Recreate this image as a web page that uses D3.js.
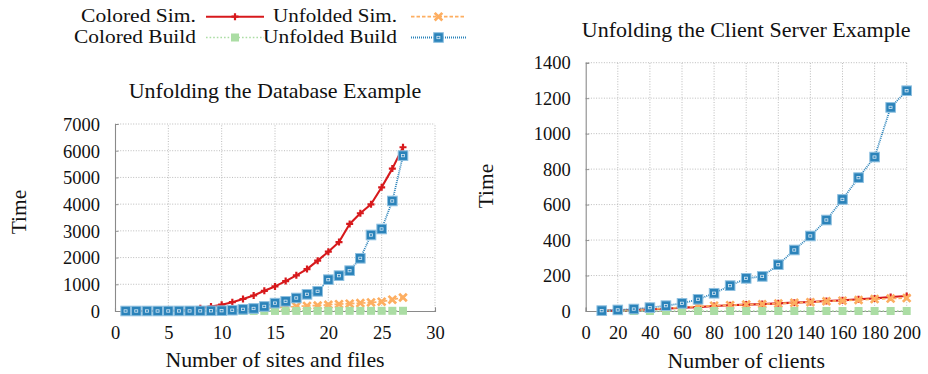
<!DOCTYPE html>
<html><head><meta charset="utf-8">
<script src="https://cdn.jsdelivr.net/npm/d3@7"></script>
<style>
body{margin:0;background:#fff;}
svg text{font-family:"Liberation Serif","DejaVu Serif",serif;fill:#111;}
</style></head>
<body><svg id="c" width="928" height="374"></svg>
<script>
// ---------- DATA ----------
const seriesNames = ["Colored Sim.", "Unfolded Sim.", "Colored Build", "Unfolded Build"];
const colors = ["#d7191c", "#fdae61", "#abdda4", "#2b83ba"];

// Left chart: Unfolding the Database Example
const dbSites = [1,2,3,4,5,6,7,8,9,10,11,12,13,14,15,16,17,18,19,20,21,22,23,24,25,26,27];
const dbColoredSim = [0,1,2,4,8,18,40,100,165,235,330,450,580,755,920,1120,1335,1570,1885,2220,2580,3260,3660,3995,4630,5330,6130];
const dbUnfoldedSim = [0,0,1,2,3,5,8,12,18,25,35,50,70,95,120,150,170,190,205,235,255,275,295,320,350,425,505];
const dbColoredBuild = [0,0,0,0,0,0,1,1,1,2,2,2,3,3,3,4,4,4,5,5,5,6,6,6,7,7,8];
const dbUnfoldedBuild = [0,0,0,0,1,2,3,5,8,12,30,62,95,170,295,362,487,624,736,1173,1323,1510,1972,2845,3070,4118,5816];
const dbXTicks = [0,5,10,15,20,25,30];
const dbYTicks = [0,1000,2000,3000,4000,5000,6000,7000];

// Right chart: Unfolding the Client Server Example
const csClients = [10,20,30,40,50,60,70,80,90,100,110,120,130,140,150,160,170,180,190,200];
const csColoredSim = [1,3,6,9,13,19,22,28,32,36,39,43,47,51,56,60,66,71,79,85];
const csUnfoldedSim = [2,4,6,9,15,21,26,30,33,36,38,42,46,50,55,58,62,67,70,73];
const csColoredBuild = [0,0,0,0,0,0,0,0,0,0,0,0,0,0,0,0,0,0,0,0];
const csUnfoldedBuild = [2,6,11,19,30,43,66,100,143,184,195,261,344,423,513,629,752,868,1148,1242];
const csXTicks = [0,20,40,60,80,100,120,140,160,180,200];
const csYTicks = [0,200,400,600,800,1000,1200,1400];

// ---------- DRAWING ----------
const svg = d3.select("#c");
const FONT = "Liberation Serif";
const TXT = 21.5, TICK = 18.5;
const gridCol = "#b4b4b4", axisCol = "#8a8a8a";

const lineStyles = [
  {w:2.1, dash:null},
  {w:1.7, dash:"3.5,2"},
  {w:1.7, dash:"1.6,2"},
  {w:1.8, dash:"1,1"}
];

function drawMarker(g, k, x, y){
  const c = colors[k];
  if(k===0){
    g.append("path").attr("d",`M${x-3.5},${y}H${x+3.5}M${x},${y-3.5}V${y+3.5}`)
      .attr("stroke",c).attr("stroke-width",2.2).attr("fill","none");
  } else if(k===1){
    const s=3.8;
    g.append("path").attr("d",`M${x-s},${y-s}L${x+s},${y+s}M${x-s},${y+s}L${x+s},${y-s}`)
      .attr("stroke",c).attr("stroke-width",2.7).attr("fill","none");
  } else if(k===2){
    g.append("rect").attr("x",x-4).attr("y",y-4).attr("width",8).attr("height",8).attr("fill",c);
  } else {
    g.append("rect").attr("x",x-4.8).attr("y",y-4.8).attr("width",9.6).attr("height",9.6)
      .attr("fill",c).attr("stroke","#8ec0e0").attr("stroke-width",1);
    g.append("rect").attr("x",x-1.6).attr("y",y-1.2).attr("width",3).attr("height",2.4)
      .attr("fill","none").attr("stroke","#d8e8f4").attr("stroke-width",0.8);
  }
}

function chart(cfg){
  const x = d3.scaleLinear().domain(cfg.xDomain).range([cfg.left, cfg.right]);
  const y = d3.scaleLinear().domain(cfg.yDomain).range([cfg.bottom, cfg.top]);
  const g = svg.append("g");

  // grid
  const grid = g.append("g").attr("stroke",gridCol).attr("stroke-width",0.9).attr("stroke-dasharray","1,1.6");
  cfg.xTicks.forEach(t=>{ if(t!==cfg.xDomain[0]) grid.append("line").attr("x1",x(t)).attr("x2",x(t)).attr("y1",cfg.bottom).attr("y2",cfg.top); });
  cfg.yTicks.forEach(t=>{ if(t!==cfg.yDomain[0]) grid.append("line").attr("x1",cfg.left).attr("x2",cfg.right).attr("y1",y(t)).attr("y2",y(t)); });

  // axes (left & bottom solid lines, ticks inward)
  const xa = g.append("g").attr("transform",`translate(0,${cfg.bottom})`)
    .call(d3.axisBottom(x).tickValues(cfg.xTicks).tickSize(-3.5).tickPadding(10).tickFormat(d3.format("d")));
  const ya = g.append("g").attr("transform",`translate(${cfg.left},0)`)
    .call(d3.axisLeft(y).tickValues(cfg.yTicks).tickSize(-3.5).tickPadding(15).tickFormat(d3.format("d")));
  [xa,ya].forEach(a=>{
    a.attr("font-family",FONT).attr("font-size",TICK);
    a.select(".domain").attr("stroke",axisCol).attr("stroke-width",1.1);
    a.selectAll(".tick line").attr("stroke",axisCol).attr("stroke-width",0.9);
    a.selectAll("text").attr("font-family",FONT).style("font-family",`"${FONT}", serif`)
      .style("font-size",TICK+"px").attr("fill","#111");
  });
  xa.selectAll("text").attr("dy","0.95em");
  ya.selectAll("text").attr("dy","0.34em");

  // series
  const line = d3.line().x(d=>x(d[0])).y(d=>y(d[1]));
  cfg.series.forEach((vals,k)=>{
    const pts = cfg.xs.map((xv,i)=>[xv, vals[i]]);
    const st = lineStyles[k];
    const p = g.append("path").attr("d",line(pts)).attr("fill","none")
      .attr("stroke",colors[k]).attr("stroke-width",st.w).attr("stroke-linejoin","round");
    if(st.dash) p.attr("stroke-dasharray",st.dash);
    const mg = g.append("g");
    pts.forEach(d=>drawMarker(mg,k,x(d[0]),y(d[1])));
  });

  // title & labels
  g.append("text").attr("x",(cfg.left+cfg.right)/2).attr("y",cfg.titleY).attr("text-anchor","middle")
    .style("font-size","22px").text(cfg.title);
  g.append("text").attr("x",(cfg.left+cfg.right)/2).attr("y",cfg.xLabelY).attr("text-anchor","middle")
    .style("font-size","21.8px").text(cfg.xLabel);
  g.append("text").attr("transform",`translate(${cfg.yLabelX},${cfg.yLabelCY}) rotate(-90)`).attr("text-anchor","middle")
    .style("font-size",TXT+"px").text("Time");
}

chart({
  xDomain:[0,30], yDomain:[0,7000], left:115, right:435, top:124, bottom:311,
  xTicks:dbXTicks, yTicks:dbYTicks, xs:dbSites,
  series:[dbColoredSim, dbUnfoldedSim, dbColoredBuild, dbUnfoldedBuild],
  title:"Unfolding the Database Example", titleY:98,
  xLabel:"Number of sites and files", xLabelY:367, yLabelX:26, yLabelCY:212
});
chart({
  xDomain:[0,200], yDomain:[0,1400], left:585.7, right:906.7, top:62.7, bottom:311,
  xTicks:csXTicks, yTicks:csYTicks, xs:csClients,
  series:[csColoredSim, csUnfoldedSim, csColoredBuild, csUnfoldedBuild],
  title:"Unfolding the Client Server Example", titleY:37,
  xLabel:"Number of clients", xLabelY:368, yLabelX:493, yLabelCY:186
});

// legend
const leg = svg.append("g");
const cols = [{tx:196, l1:206, l2:264}, {tx:397, l1:411, l2:466}];
const rows = [{ly:16.7, ty:21.5}, {ly:37.5, ty:43}];
const legWidths = [115, 124, 122, 134];
seriesNames.forEach((name,k)=>{
  const c = cols[k%2], r = rows[Math.floor(k/2)];
  leg.append("text").attr("x",c.tx - legWidths[k]).attr("y",r.ty)
    .attr("textLength",legWidths[k]).attr("lengthAdjust","spacingAndGlyphs")
    .style("font-size","18.5px").text(name);
  const st = lineStyles[k];
  const p = leg.append("line").attr("x1",c.l1).attr("x2",c.l2).attr("y1",r.ly).attr("y2",r.ly)
    .attr("stroke",colors[k]).attr("stroke-width",st.w);
  if(st.dash) p.attr("stroke-dasharray",st.dash);
  drawMarker(leg,k,(c.l1+c.l2)/2,r.ly);
});
</script></body></html>
